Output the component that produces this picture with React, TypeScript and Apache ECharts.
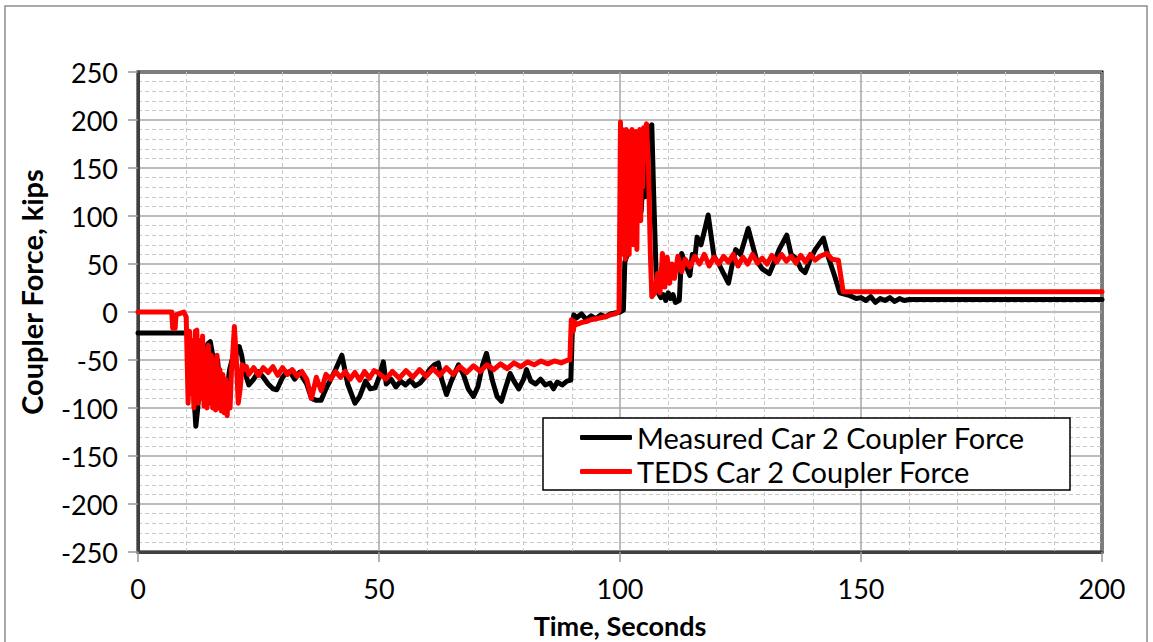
import React, { useEffect, useRef } from "react";
import * as echarts from "echarts";

// Measured Car 2 coupler force (black)
const measuredT = [
  0, 10.5, 11.0, 11.5, 12.0, 12.4, 12.8, 13.2, 13.6, 14.0, 14.5, 15.0, 15.5, 16.0, 16.5, 17.0, 17.5, 18.0, 18.5, 19.0,
  19.5, 20.0, 20.5, 21.0, 21.5, 22.0, 23.0, 24.0, 25.0, 26.0, 27.0, 28.0, 28.8, 30.0, 30.5, 31.5, 32.5, 33.5, 35.0, 36.0,
  37.0, 38.0, 39.0, 40.0, 41.0, 42.3, 43.5, 45.0, 46.0, 47.2, 48.2, 49.2, 50.0, 50.9, 51.5, 52.5, 53.5, 54.5, 55.5, 56.5,
  57.5, 58.5, 59.5, 60.5, 61.5, 62.3, 63.0, 64.0, 65.0, 66.5, 67.5, 68.5, 69.6, 70.5, 71.5, 72.3, 73.5, 74.5, 75.4, 76.2,
  77.2, 78.0, 79.0, 80.0, 80.6, 81.5, 82.5, 83.5, 84.5, 85.5, 86.2, 87.0, 88.0, 89.0, 89.8, 90.1, 90.4, 91.0, 92.0, 93.0,
  94.0, 95.0, 96.0, 97.0, 98.0, 99.0, 100.0, 100.7, 101.0, 101.5, 102.0, 102.5, 103.0, 103.5, 104.0, 104.4, 104.8, 105.2, 105.5, 106.0,
  106.6, 107.0, 107.5, 107.9, 108.5, 109.0, 109.5, 110.0, 110.5, 111.0, 111.5, 112.3, 112.8, 113.5, 114.5, 115.0, 115.5, 116.0, 116.8, 117.3,
  118.3, 119.5, 120.5, 121.5, 122.5, 123.3, 124.0, 125.0, 126.6, 127.5, 128.4, 129.5, 131.0, 132.0, 133.0, 134.6, 135.5, 136.5, 137.5, 138.4,
  139.5, 140.5, 142.2, 143.3, 144.5, 145.6, 147.7, 149.0, 150.0, 151.0, 152.0, 153.0, 154.0, 155.0, 156.0, 157.0, 158.0, 159.0, 160.0, 200.0,
];
const measuredV = [
  -22, -22, -40, -80, -119, -100, -60, -45, -70, -40, -33, -31, -45, -60, -50, -75, -90, -95, -80, -60,
  -50, -55, -40, -36, -45, -60, -76, -70, -62, -68, -75, -80, -81, -68, -65, -62, -70, -63, -75, -90,
  -92, -92, -80, -70, -60, -45, -75, -95, -88, -72, -80, -79, -68, -52, -75, -70, -78, -72, -76, -71,
  -77, -74, -68, -60, -55, -53, -70, -86, -72, -55, -65, -80, -88, -78, -55, -43, -71, -88, -93, -80,
  -64, -72, -80, -70, -60, -72, -75, -70, -76, -74, -80, -73, -76, -72, -71, -20, -3, -6, -2, -8,
  -4, -7, -3, -5, -2, -1, 0, 2, 52, 60, 90, 80, 110, 95, 125, 105, 140, 120, 160, 190,
  195, 120, 40, 20, 15, 18, 12, 20, 14, 18, 10, 12, 61, 50, 38, 60, 55, 78, 70, 80,
  101, 58, 50, 40, 30, 50, 65, 60, 87, 70, 53, 45, 40, 52, 65, 80, 60, 56, 45, 41,
  55, 65, 77, 56, 38, 20, 17, 14, 15, 12, 16, 10, 14, 12, 15, 11, 14, 12, 13, 13,
];

// TEDS Car 2 coupler force (red)
const tedsT = [
  0, 7.0, 7.2, 7.7, 7.9, 8.5, 9.5, 10.0, 10.4, 10.7, 11.0, 11.3, 11.6, 11.9, 12.2, 12.5, 12.8, 13.1, 13.4, 13.7,
  14.0, 14.3, 14.6, 14.9, 15.2, 15.5, 15.8, 16.1, 16.4, 16.7, 17.0, 17.3, 17.6, 17.9, 18.2, 18.5, 18.8, 19.1, 19.4, 19.7,
  20.0, 20.4, 20.8, 21.2, 21.6, 22.0, 22.5, 23.0, 24.0, 25.0, 26.0, 27.0, 28.0, 29.0, 30.0, 31.0, 32.0, 33.0, 34.0, 35.0,
  36.0, 37.0, 38.0, 39.0, 40.0, 41.0, 42.0, 43.0, 44.0, 45.0, 46.0, 47.0, 48.0, 49.0, 50.0, 51.4, 52.8, 54.2, 55.6, 57.0,
  58.4, 59.8, 61.2, 62.6, 64.0, 65.4, 66.8, 68.2, 69.6, 71.0, 72.4, 73.8, 75.2, 76.6, 78.0, 79.4, 80.8, 82.2, 83.6, 85.0,
  86.4, 87.8, 89.2, 89.6, 89.9, 90.3, 90.6, 91.0, 92.0, 93.0, 94.0, 95.0, 96.0, 97.0, 98.0, 99.0, 99.8, 100.1, 100.3, 100.5,
  100.7, 100.9, 101.1, 101.3, 101.5, 101.7, 101.9, 102.1, 102.3, 102.5, 102.7, 102.9, 103.1, 103.3, 103.5, 103.7, 103.9, 104.1, 104.3, 104.5,
  104.7, 104.9, 105.2, 105.5, 105.9, 106.3, 106.6, 107.2, 107.8, 108.3, 108.8, 109.3, 109.8, 110.3, 110.8, 111.3, 112.0, 112.8, 113.5, 114.5,
  115.5, 116.5, 117.5, 118.5, 119.5, 120.5, 121.5, 122.5, 123.5, 124.5, 125.5, 126.5, 127.5, 128.5, 129.5, 130.5, 131.5, 132.5, 133.5, 134.5,
  135.5, 136.5, 137.5, 138.5, 139.5, 140.5, 141.5, 142.9, 144.0, 145.3, 146.3, 200.0,
];
const tedsV = [
  0, 0, -17, -17, -3, -2, 0, -5, -95, -20, -85, -30, -100, -20, -19, -95, -30, -90, -25, -98,
  -40, -100, -35, -95, -45, -100, -50, -102, -45, -100, -60, -103, -65, -105, -70, -108, -75, -100, -60, -40,
  -15, -50, -95, -80, -55, -60, -57, -65, -58, -66, -58, -63, -57, -66, -58, -65, -60, -67, -62, -70,
  -90, -68, -82, -65, -70, -62, -68, -62, -70, -63, -71, -62, -69, -61, -64, -70, -62, -69, -61, -68,
  -60, -67, -59, -66, -58, -65, -57, -63, -56, -62, -55, -60, -54, -59, -53, -57, -52, -55, -51, -54,
  -51, -53, -50, -50, -8, -20, -10, -13, -11, -10, -8, -7, -6, -5, -3, -2, 1, 198, 60, 190,
  70, 185, 55, 190, 80, 188, 60, 185, 90, 190, 70, 185, 100, 188, 65, 185, 110, 190, 95, 188,
  130, 192, 190, 196, 150, 60, 16, 20, 40, 20, 61, 26, 57, 30, 50, 35, 58, 42, 55, 47,
  58, 50, 60, 48, 57, 50, 58, 52, 60, 48, 57, 50, 60, 51, 56, 50, 59, 52, 60, 53,
  58, 51, 59, 52, 60, 54, 58, 61, 55, 54, 21, 21,
];

const seriesNames = ["Measured Car 2 Coupler Force", "TEDS Car 2 Coupler Force"];
const yTitle = "Coupler Force, kips";
const xTitle = "Time, Seconds";

const FONT = "Lato, 'Open Sans', sans-serif";

export default function App() {
  const ref = useRef<HTMLDivElement>(null);

  useEffect(() => {
    if (!ref.current) return;
    const chart = echarts.init(ref.current, undefined, { renderer: "svg" });
    const measured = measuredT.map((t, i) => [t, measuredV[i]]);
    const teds = tedsT.map((t, i) => [t, tedsV[i]]);

    const axisCommon = {
      type: "value" as const,
      axisLine: { show: true, onZero: false, lineStyle: { color: "#404040", width: 3 } },
      axisTick: { show: true, inside: false, length: 10, lineStyle: { color: "#999", width: 1.5 } },
      axisLabel: { fontSize: 27, fontFamily: FONT, color: "#000" },
      splitLine: { show: true, lineStyle: { color: "#a6a6a6", width: 1.5 } },
      minorTick: { show: false, splitNumber: 5 },
      minorSplitLine: { show: true, lineStyle: { color: "#c8c8c8", width: 1, type: [4, 3] } },
    };

    chart.setOption({
      animation: false,
      backgroundColor: "#fff",
      grid: {
        left: 138,
        right: 51,
        top: 72,
        bottom: 90,
        show: true,
        borderColor: "#000",
        borderWidth: 3,
        backgroundColor: "#fff",
      },
      xAxis: {
        ...axisCommon,
        min: 0,
        max: 200,
        interval: 50,
        axisLabel: { ...axisCommon.axisLabel, margin: 23 },
      },
      yAxis: {
        ...axisCommon,
        min: -250,
        max: 250,
        interval: 50,
        axisLabel: { ...axisCommon.axisLabel, margin: 20 },
      },
      legend: {
        orient: "vertical",
        left: 575,
        top: 418,
        padding: 5,
        itemWidth: 52,
        itemHeight: 5,
        itemGap: 5,
        icon: "roundRect",
        textStyle: { fontSize: 29, fontFamily: FONT, color: "#000" },
        data: seriesNames,
        z: 10,
      },
      graphic: [
        {
          type: "rect",
          shape: { x: 5, y: 6, width: 1142, height: 700 },
          style: { fill: "none", stroke: "#8c8c8c", lineWidth: 1.5 },
          z: -1,
          silent: true,
        },
        {
          type: "rect",
          shape: { x: 543, y: 418, width: 527, height: 72 },
          style: { fill: "#fff", stroke: "#000", lineWidth: 1.5 },
          z: 5,
          silent: true,
        },
        {
          type: "text",
          x: 31,
          y: 292,
          rotation: Math.PI / 2,
          style: {
            text: yTitle,
            font: `bold 29px ${FONT}`,
            fill: "#000",
            textAlign: "center",
            textVerticalAlign: "middle",
          },
          silent: true,
        },
        {
          type: "text",
          x: 620,
          y: 625,
          style: {
            text: xTitle,
            font: `bold 27px ${FONT}`,
            fill: "#000",
            textAlign: "center",
            textVerticalAlign: "middle",
          },
          silent: true,
        },
      ],
      series: [
        {
          name: seriesNames[0],
          type: "line",
          data: measured,
          showSymbol: false,
          symbol: "none",
          color: "#000",
          lineStyle: { color: "#000", width: 5, join: "round", cap: "round" },
          z: 2,
        },
        {
          name: seriesNames[1],
          type: "line",
          data: teds,
          showSymbol: false,
          symbol: "none",
          color: "#ff0000",
          lineStyle: { color: "#ff0000", width: 5, join: "round", cap: "round" },
          z: 3,
        },
      ],
    });

    return () => chart.dispose();
  }, []);

  return (
    <div
      ref={ref}
      style={{ position: "absolute", left: 0, top: 0, width: 1153, height: 642, background: "#fff" }}
    />
  );
}
